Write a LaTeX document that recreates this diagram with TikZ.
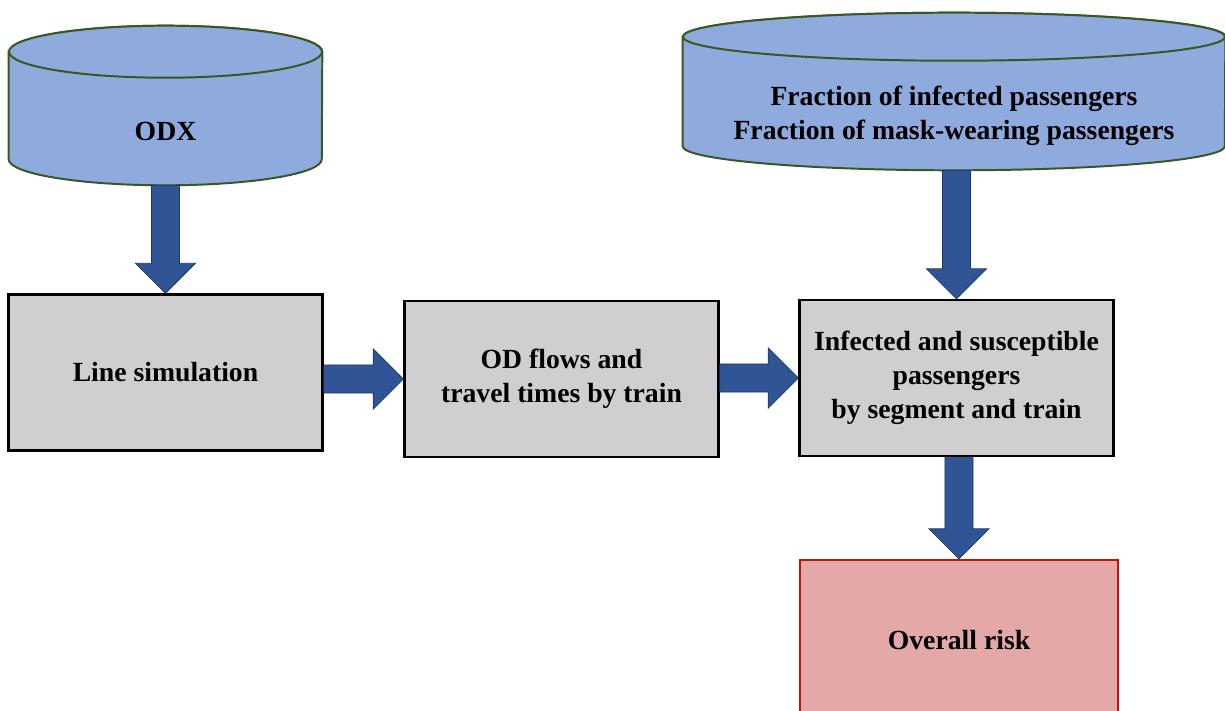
\documentclass[tikz,border=0pt]{standalone}
\usepackage{fontspec}
\setmainfont{Liberation Serif}
\usepackage{tikz}
\usetikzlibrary{calc, backgrounds}
\definecolor{dbblue}{RGB}{143,170,220}
\definecolor{dbgreen}{RGB}{56,87,35}
\definecolor{boxgray}{RGB}{208,206,206}
\definecolor{arrowblue}{RGB}{47,85,151}
\definecolor{arrowedge}{RGB}{32,56,100}
\definecolor{riskpink}{RGB}{228,168,168}
\definecolor{riskred}{RGB}{192,20,10}
\newcommand{\labelfont}{\fontsize{19.7pt}{24.2pt}\selectfont\bfseries}
\tikzset{
  dbnode/.style={rectangle, align=center, font=\labelfont, inner sep=0pt},
  dbshape/.style={draw=dbgreen, fill=dbblue, line width=1.4pt},
  procbox/.style={rectangle, draw=black, fill=boxgray, line width=1.8pt,
    align=center, font=\labelfont, minimum width=7.85cm, minimum height=3.9cm},
  riskbox/.style={rectangle, draw=riskred, fill=riskpink, line width=1.6pt,
    align=center, font=\labelfont, minimum width=7.95cm, minimum height=4cm},
  bigarrow/.style={draw=arrowedge, fill=arrowblue, line width=0.6pt, line join=miter}
}
% cylinder round a node: name, x radius, y radius
\newcommand{\dbcyl}[3]{%
  \draw[dbshape] ([yshift=#3]#1.north west) -- ([yshift=#3]#1.south west)
    arc[start angle=180, end angle=360, x radius=#2, y radius=#3]
    -- ([yshift=#3]#1.north east)
    arc[start angle=0, end angle=180, x radius=#2, y radius=#3] -- cycle;
  \draw[dbshape] ([yshift=#3]#1.north) ellipse[x radius=#2, y radius=#3];}
% block arrows from node to node
\newcommand{\downblock}[2]{%
  \draw[bigarrow] let \p1=(#1), \p2=(#2) in
    (\x2-10pt,\y1) -- (\x2-10pt,\y2+21.3pt) -- (\x2-21.3pt,\y2+21.3pt) -- (\x2,\y2)
    -- (\x2+21.3pt,\y2+21.3pt) -- (\x2+10pt,\y2+21.3pt) -- (\x2+10pt,\y1) -- cycle;}
\newcommand{\rightblock}[2]{%
  \draw[bigarrow] let \p1=(#1), \p2=(#2) in
    (\x1,\y2+10pt) -- (\x2-21.3pt,\y2+10pt) -- (\x2-21.3pt,\y2+21.3pt) -- (\x2,\y2)
    -- (\x2-21.3pt,\y2-21.3pt) -- (\x2-21.3pt,\y2-10pt) -- (\x1,\y2-10pt) -- cycle;}

\begin{document}
\begin{tikzpicture}[x=0.025cm, y=0.025cm]
  \useasboundingbox (0,0) rectangle (1225,-711);
  \clip (0,0) rectangle (1225,-711);

  % data sources
  \node[dbnode, minimum width=7.825cm, minimum height=2.675cm] (odx) at (165.5,-131.5) {ODX};
  \node[dbnode, minimum width=13.55cm, minimum height=2.725cm] (rates) at (954,-115.5)
    {Fraction of infected passengers\\Fraction of mask-wearing passengers};
  \begin{scope}[on background layer]
    \dbcyl{odx}{3.9125cm}{0.65cm}
    \dbcyl{rates}{6.775cm}{0.6cm}
  \end{scope}

  % processing chain
  \node[procbox] (linesim) at (165.5,-372.5) {Line simulation};
  \node[procbox] (odflows) at (561.5,-379) {OD flows and\\travel times by train};
  \node[procbox] (infected) at (956.5,-378) {Infected and susceptible\\passengers\\by segment and train};
  \node[riskbox] (risk) at (959,-640) {Overall risk};

  % arrows
  \downblock{odx.south}{linesim.north}
  \rightblock{linesim.east}{odflows.west}
  \rightblock{odflows.east}{infected.west}
  \downblock{rates.south}{infected.north}
  \downblock{infected.south}{risk.north}
\end{tikzpicture}
\end{document}
